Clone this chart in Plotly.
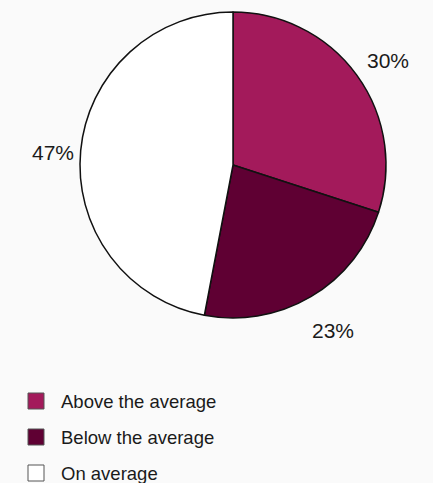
import math
import plotly.graph_objects as go

# Share of respondents relative to the average
categories = ["Above the average", "Below the average", "On average"]
shares = [30, 23, 47]
slice_colors = ["#A31A5B", "#5F0033", "#FFFFFF"]

W, H = 433, 483
FONT = "Liberation Sans, Arial, Helvetica, sans-serif"

# Pie placement (pixels)
cx, cy, R = 233, 165, 153
label_r = 186           # radius of the percentage labels
label_dx, label_dy = 5, 5

fig = go.Figure(
    go.Pie(
        labels=categories,
        values=shares,
        sort=False,
        direction="clockwise",
        rotation=0,
        marker=dict(colors=slice_colors, line=dict(color="#111111", width=1.5)),
        textinfo="none",
        hoverinfo="label+percent",
        showlegend=False,
        domain=dict(x=[(cx - R) / W, (cx + R) / W], y=[1 - (cy + R) / H, 1 - (cy - R) / H]),
    )
)

# Percentage labels placed outside each slice, around its mid-angle
total = sum(shares)
start = 0.0
for v in shares:
    mid = (start + v / 2) / total * 2 * math.pi
    start += v
    px = cx + label_r * math.sin(mid) + label_dx
    py = cy - label_r * math.cos(mid) + label_dy
    fig.add_annotation(
        x=px / W, y=1 - py / H, xref="paper", yref="paper",
        text=f"{v}%", showarrow=False, xanchor="center", yanchor="middle",
        font=dict(family=FONT, size=21, color="#1a1a1a"),
    )

# Legend: colour swatch + label per category
leg_x, leg_y0, leg_step, sw = 28, 401, 36, 16
for i, (name, col) in enumerate(zip(categories, slice_colors)):
    yc = leg_y0 + i * leg_step
    fig.add_shape(
        type="rect", xref="paper", yref="paper",
        x0=leg_x / W, x1=(leg_x + sw) / W,
        y0=1 - (yc + sw / 2) / H, y1=1 - (yc - sw / 2) / H,
        fillcolor=col, line=dict(color="#555555", width=1),
    )
    fig.add_annotation(
        x=59 / W, y=1 - yc / H, xref="paper", yref="paper",
        text=name, showarrow=False, xanchor="left", yanchor="middle",
        font=dict(family=FONT, size=18.5, color="#1a1a1a"),
    )

fig.update_layout(
    width=W,
    height=H,
    margin=dict(l=0, r=0, t=0, b=0),
    paper_bgcolor="#FAFAFA",
    plot_bgcolor="#FAFAFA",
    showlegend=False,
)

fig.write_html("out.html")
